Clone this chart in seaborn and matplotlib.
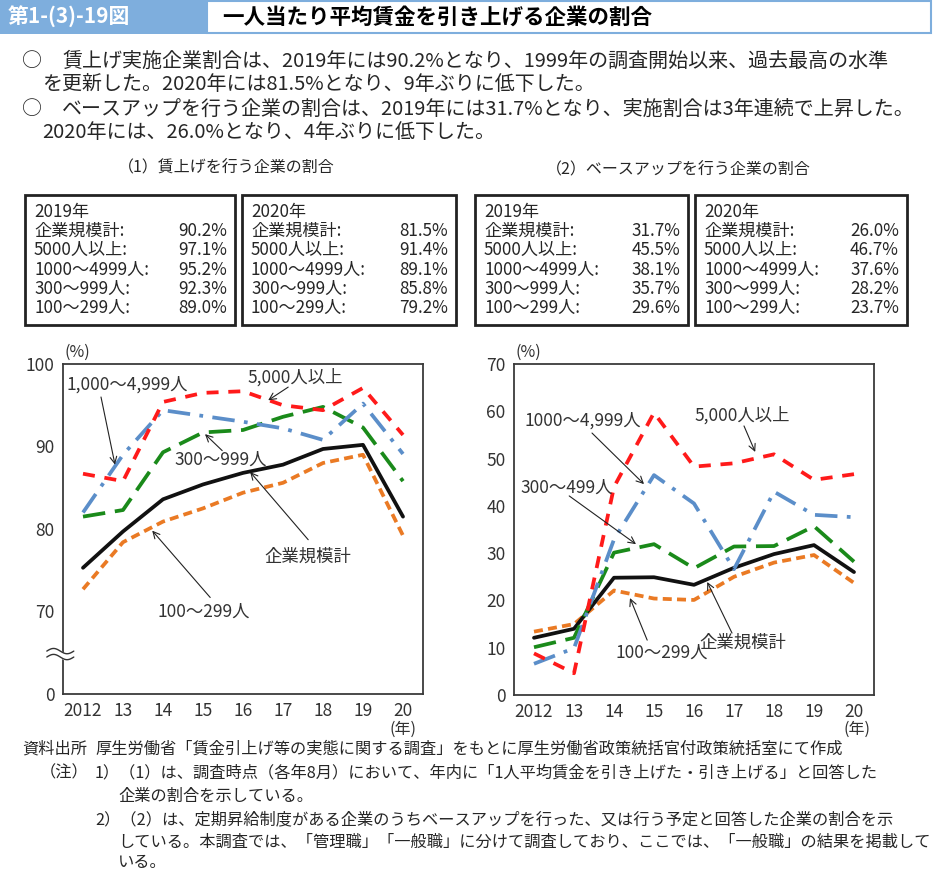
import numpy as np
import pandas as pd
import matplotlib
matplotlib.use("Agg")
import matplotlib.pyplot as plt
from matplotlib.patches import Rectangle
import seaborn as sns

sns.set_theme(style="white")
plt.rcParams['font.family'] = ['Noto Sans CJK JP', 'DejaVu Sans']

# ---------------- data ----------------
year_labels = ['2012', '13', '14', '15', '16', '17', '18', '19', '20']

# (1) 賃上げを行う企業の割合
wage_total = [75.3, 79.7, 83.6, 85.4, 86.8, 87.8, 89.7, 90.2, 81.5]
wage_5000 = [86.7, 85.8, 95.4, 96.5, 96.7, 95.0, 94.4, 97.1, 91.4]
wage_1000 = [82.0, 89.0, 94.4, 93.7, 93.0, 92.2, 90.8, 95.2, 89.1]
wage_300 = [81.5, 82.3, 89.3, 91.7, 92.0, 93.6, 94.8, 92.3, 85.8]
wage_100 = [72.7, 78.4, 80.9, 82.5, 84.4, 85.6, 88.0, 89.0, 79.2]

# (2) ベースアップを行う企業の割合
base_total = [12.1, 14.0, 24.8, 24.9, 23.3, 26.9, 29.8, 31.7, 26.0]
base_5000 = [8.8, 4.6, 44.0, 59.7, 48.3, 49.0, 50.9, 45.5, 46.7]
base_1000 = [6.6, 9.9, 32.9, 46.5, 40.5, 26.6, 43.0, 38.1, 37.6]
base_300 = [10.1, 12.1, 30.1, 31.9, 26.8, 31.4, 31.5, 35.7, 28.2]
base_100 = [13.4, 15.0, 22.1, 20.4, 20.1, 25.0, 28.0, 29.6, 23.7]

box_labels = ['企業規模計:', '5000人以上:', '1000～4999人:', '300～999人:', '100～299人:']
box_wage_2019 = ['90.2%', '97.1%', '95.2%', '92.3%', '89.0%']
box_wage_2020 = ['81.5%', '91.4%', '89.1%', '85.8%', '79.2%']
box_base_2019 = ['31.7%', '45.5%', '38.1%', '35.7%', '29.6%']
box_base_2020 = ['26.0%', '46.7%', '37.6%', '28.2%', '23.7%']

W, H = 933, 871
fig = plt.figure(figsize=(W / 100, H / 100), dpi=100)
fig.patch.set_facecolor('white')


def fx(x):
    return x / W


def fy(y):
    return 1 - y / H


def ftext(x, y, s, size=12, **kw):
    fig.text(fx(x), fy(y), s, fontsize=size, va='center', **kw)


# ---------------- header ----------------
hdr_blue = '#7eaedd'
fig.add_artist(Rectangle((0, fy(34)), fx(207), 34 / H, transform=fig.transFigure,
                         facecolor=hdr_blue, edgecolor='none'))
fig.add_artist(Rectangle((fx(207), fy(33)), fx(724), 32 / H, transform=fig.transFigure,
                         facecolor='white', edgecolor=hdr_blue, lw=1.5))
ftext(8, 17, '第1-(3)-19図', size=15, color='white', fontweight='bold')
ftext(222, 17, '一人当たり平均賃金を引き上げる企業の割合', size=15.5, color='black', fontweight='bold')

# ---------------- body text ----------------
bs = 14.4
ftext(22, 61, '○', size=bs)
ftext(62, 61, '賃上げ実施企業割合は、2019年には90.2%となり、1999年の調査開始以来、過去最高の水準', size=bs)
ftext(42, 85, 'を更新した。2020年には81.5%となり、9年ぶりに低下した。', size=bs)
ftext(22, 109, '○', size=bs)
ftext(62, 109, 'ベースアップを行う企業の割合は、2019年には31.7%となり、実施割合は3年連続で上昇した。', size=bs)
ftext(42, 133, '2020年には、26.0%となり、4年ぶりに低下した。', size=bs)

ftext(118, 168, '（1）賃上げを行う企業の割合', size=11.5)
ftext(546, 170, '（2）ベースアップを行う企業の割合', size=11.5)

# ---------------- value boxes ----------------
boxes = [(25, 235, box_wage_2019, '2019年'), (242, 456, box_wage_2020, '2020年'),
         (475, 688, box_base_2019, '2019年'), (695, 907, box_base_2020, '2020年')]
row_y = [212, 231, 250, 270, 289, 308]
bfs = 12.3
for x0, x1, vals, yr in boxes:
    fig.add_artist(Rectangle((fx(x0), fy(325)), fx(x1 - x0), 130 / H, transform=fig.transFigure,
                             facecolor='white', edgecolor='#222222', lw=2))
    ftext(x0 + 9, row_y[0], yr, size=bfs)
    for lab, v, yy in zip(box_labels, vals, row_y[1:]):
        ftext(x0 + 9, yy, lab, size=bfs)
        fig.text(fx(x1 - 8), fy(yy), v, fontsize=bfs, va='center', ha='right')

# ---------------- charts ----------------
colors = {'total': '#111111', '5000': '#ff1a1a', '1000': '#5b8ec9',
          '300': '#1a8a1a', '100': '#ea7a24'}
dash = {'total': None, '5000': (3.2, 2.6), '1000': (6, 2.5, 1, 2.5),
        '300': (6, 2.6), '100': (2.4, 1.4)}


def draw(ax, series):
    x = np.arange(len(year_labels))
    for key, vals in series:
        df = pd.DataFrame({'x': x, 'y': vals})
        sns.lineplot(data=df, x='x', y='y', ax=ax, color=colors[key], lw=2.7)
        ln = ax.lines[-1]
        if dash[key] is not None:
            ln.set_dashes(dash[key])
    ax.set_xlim(-0.5, 8.5)
    ax.set_xticks(x)
    ax.set_xticklabels(year_labels)
    ax.set_xlabel('')
    ax.set_ylabel('')
    ax.tick_params(length=0, labelsize=12.5, pad=6, colors='#333333')
    for sp in ax.spines.values():
        sp.set_color('#3a3a3a')
        sp.set_linewidth(1.3)
    ax.grid(False)


ax1 = fig.add_axes([fx(63), fy(694), fx(360), 330 / H])
draw(ax1, [('100', wage_100), ('total', wage_total), ('300', wage_300),
           ('1000', wage_1000), ('5000', wage_5000)])
ax1.set_ylim(60, 100)
ax1.set_yticks([60, 70, 80, 90, 100])
ax1.set_yticklabels(['0', '70', '80', '90', '100'])

# axis break mark
tx = np.linspace(-0.045, 0.03, 40)
wave = 0.008 * np.sin((tx + 0.045) / 0.075 * 2 * np.pi)
ax1.fill_between(tx, 0.112 + wave, 0.130 + wave,
                 transform=ax1.transAxes, color='white', clip_on=False, zorder=5)
for off in (0.0, 0.018):
    ax1.plot(tx, 0.112 + off + wave, transform=ax1.transAxes, color='#333333',
             lw=1.0, clip_on=False, zorder=6)

ax2 = fig.add_axes([fx(514), fy(695), fx(360), 331 / H])
draw(ax2, [('100', base_100), ('total', base_total), ('300', base_300),
           ('1000', base_1000), ('5000', base_5000)])
ax2.set_ylim(0, 70)
ax2.set_yticks(range(0, 71, 10))

for xl in (77, 528):
    ftext(xl, 352, '(%)', size=11.5, ha='center', color='#333333')
for xl in (403, 857):
    ftext(xl, 729, '(年)', size=11.5, ha='center', color='#333333')

arrow = dict(arrowstyle='->', lw=0.8, color='#222222', shrinkA=0, shrinkB=0)


def note(ax, text, tpos, start, end):
    ax.text(tpos[0], tpos[1], text, fontsize=12.5, ha='center', va='center', color='#333333')
    ax.annotate('', xy=end, xytext=start, arrowprops=arrow)


note(ax1, '1,000～4,999人', (1.1, 97.5), (0.45, 96.0), (0.8, 87.8))
note(ax1, '5,000人以上', (5.3, 98.4), (5.13, 97.2), (4.63, 95.6))
note(ax1, '300～999人', (3.45, 88.4), (3.48, 89.5), (3.05, 91.5))
note(ax1, '企業規模計', (5.63, 76.7), (5.63, 78.7), (4.18, 86.9))
note(ax1, '100～299人', (3.03, 70.0), (3.18, 71.7), (1.73, 79.8))

note(ax2, '1000～4,999人', (1.23, 58.1), (1.45, 55.4), (2.75, 44.6))
note(ax2, '5,000人以上', (5.2, 59.2), (5.25, 56.9), (5.53, 51.4))
note(ax2, '300～499人', (0.83, 43.8), (0.88, 42.1), (2.55, 31.9))
note(ax2, '企業規模計', (5.23, 11.0), (4.95, 13.1), (4.33, 23.9))
note(ax2, '100～299人', (3.2, 8.9), (2.83, 11.6), (2.4, 20.5))

# ---------------- footer ----------------
fs = 11.7
ftext(22, 749, '資料出所', size=fs)
ftext(95, 749, '厚生労働省「賃金引上げ等の実態に関する調査」をもとに厚生労働省政策統括官付政策統括室にて作成', size=fs)
ftext(40, 773, '（注）', size=fs)
ftext(95, 773, '1）（1）は、調査時点（各年8月）において、年内に「1人平均賃金を引き上げた・引き上げる」と回答した', size=fs)
ftext(118, 796, '企業の割合を示している。', size=fs)
ftext(95, 820, '2）（2）は、定期昇給制度がある企業のうちベースアップを行った、又は行う予定と回答した企業の割合を示', size=fs)
ftext(118, 842, 'している。本調査では、「管理職」「一般職」に分けて調査しており、ここでは、「一般職」の結果を掲載して', size=fs)
ftext(118, 862, 'いる。', size=fs)

fig.savefig('out.png', dpi=100)
